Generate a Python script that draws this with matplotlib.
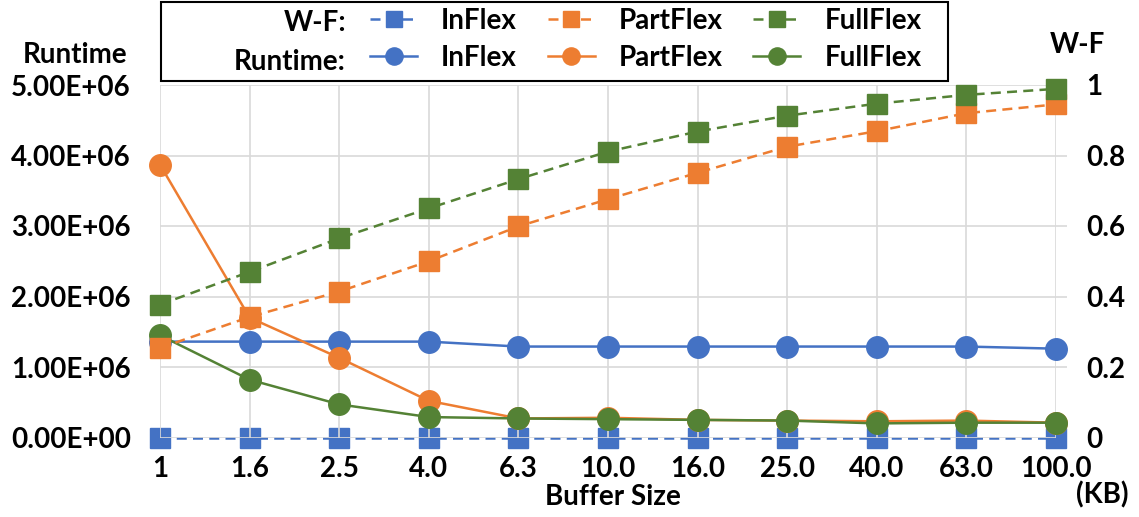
import matplotlib
matplotlib.use("Agg")
import matplotlib.pyplot as plt
from matplotlib.patches import Rectangle
from matplotlib.ticker import FuncFormatter, MultipleLocator
import numpy as np

# data
buffer_sizes = ["1", "1.6", "2.5", "4.0", "6.3", "10.0", "16.0", "25.0", "40.0", "63.0", "100.0"]

runtime_inflex = [1.36e6, 1.36e6, 1.36e6, 1.36e6, 1.29e6, 1.29e6, 1.29e6, 1.29e6, 1.29e6, 1.29e6, 1.26e6]
runtime_partflex = [3.87e6, 1.70e6, 1.13e6, 0.52e6, 0.27e6, 0.28e6, 0.25e6, 0.24e6, 0.23e6, 0.24e6, 0.21e6]
runtime_fullflex = [1.45e6, 0.82e6, 0.47e6, 0.29e6, 0.27e6, 0.26e6, 0.25e6, 0.24e6, 0.20e6, 0.21e6, 0.21e6]

wf_inflex = [0, 0, 0, 0, 0, 0, 0, 0, 0, 0, 0]
wf_partflex = [0.254, 0.342, 0.414, 0.500, 0.599, 0.676, 0.751, 0.825, 0.869, 0.920, 0.945]
wf_fullflex = [0.377, 0.470, 0.565, 0.650, 0.733, 0.811, 0.868, 0.913, 0.947, 0.972, 0.989]

BLUE = "#4472C4"
ORANGE = "#ED7D31"
GREEN = "#548235"
GRID = "#D9D9D9"

plt.rcParams["font.family"] = ["Lato", "DejaVu Sans"]
plt.rcParams["font.weight"] = "bold"
FS = 20

W, H = 1139, 517
fig = plt.figure(figsize=(W / 100, H / 100), dpi=100)


def fx(px):
    return px / W


def fy(py):
    return 1 - py / H


rect = [fx(160), fy(437.5), fx(1056) - fx(160), fy(85) - fy(437.5)]
ax = fig.add_axes(rect)          # runtime (left axis)
wf_lo = ax.twinx()               # W-F InFlex, drawn under runtime
wf_hi = ax.twinx()               # W-F Part/Full, drawn over runtime
wf_lo.set_zorder(1)
ax.set_zorder(2)
wf_hi.set_zorder(3)
ax.patch.set_visible(False)
wf_hi.patch.set_visible(False)

x = np.arange(len(buffer_sizes))
lw = 1.8
dash = (4, 2.5)
ms_sq = 15
ms_ci = 15.5

h_wf_in, = wf_lo.plot(x, wf_inflex, color=BLUE, lw=lw, ls=(0, dash), marker="s", ms=ms_sq, label="InFlex")
h_rt_in, = ax.plot(x, runtime_inflex, color=BLUE, lw=lw, marker="o", ms=ms_ci, label="InFlex")
h_rt_pt, = ax.plot(x, runtime_partflex, color=ORANGE, lw=lw, marker="o", ms=ms_ci, label="PartFlex")
h_rt_fl, = ax.plot(x, runtime_fullflex, color=GREEN, lw=lw, marker="o", ms=ms_ci, label="FullFlex")
h_wf_pt, = wf_hi.plot(x, wf_partflex, color=ORANGE, lw=lw, ls=(0, dash), marker="s", ms=ms_sq, label="PartFlex")
h_wf_fl, = wf_hi.plot(x, wf_fullflex, color=GREEN, lw=lw, ls=(0, dash), marker="s", ms=ms_sq, label="FullFlex")

for a in (ax, wf_lo, wf_hi):
    a.set_xlim(0, len(buffer_sizes) - 1)
    for s in a.spines.values():
        s.set_visible(False)
    for m in a.get_lines():
        m.set_clip_on(False)

ax.set_ylim(0, 5e6)
ax.yaxis.set_major_locator(MultipleLocator(1e6))
ax.yaxis.set_major_formatter(FuncFormatter(lambda v, p: f"{v:.2E}"))
ax.set_xticks(x)
ax.set_xticklabels(buffer_sizes)
ax.grid(True, color=GRID, lw=1.2)
ax.set_axisbelow(True)
ax.tick_params(axis="both", length=0, labelsize=FS)
ax.tick_params(axis="y", pad=21)
ax.tick_params(axis="x", pad=13)

for a in (wf_lo, wf_hi):
    a.set_ylim(0, 1)
    a.yaxis.set_major_locator(MultipleLocator(0.2))
wf_lo.yaxis.set_major_formatter(FuncFormatter(lambda v, p: f"{v:g}"))
wf_lo.tick_params(axis="y", length=8, color=GRID, width=1.2, labelsize=FS, pad=14)
wf_hi.tick_params(axis="y", length=0, labelright=False)

# axis titles
fig.text(fx(75), fy(55), "Runtime", ha="center", va="center", fontsize=FS, fontweight="bold")
fig.text(fx(1077), fy(45), "W-F", ha="center", va="center", fontsize=FS, fontweight="bold")
fig.text(fx(613), fy(497), "Buffer Size", ha="center", va="center", fontsize=FS, fontweight="bold")
fig.text(fx(1102), fy(495), "(KB)", ha="center", va="center", fontsize=FS, fontweight="bold")

# legend box with row headers
fig.patches.append(Rectangle((fx(161), fy(81)), fx(948) - fx(161), fy(2) - fy(81),
                             transform=fig.transFigure, fill=False, ec="black", lw=1.5))
fig.text(fx(346), fy(23), "W-F:", ha="right", va="center", fontsize=FS, fontweight="bold")
fig.text(fx(346), fy(62), "Runtime:", ha="right", va="center", fontsize=FS, fontweight="bold")
fig.legend(handles=[h_wf_in, h_rt_in, h_wf_pt, h_rt_pt, h_wf_fl, h_rt_fl],
           ncol=3, loc="upper left", bbox_to_anchor=(fx(370), fy(8)),
           frameon=False, fontsize=FS, handlelength=1.7, handletextpad=0.86,
           columnspacing=1.1, labelspacing=0.4, borderpad=0, borderaxespad=0,
           markerscale=0.8)

fig.savefig("out.png", dpi=100)
